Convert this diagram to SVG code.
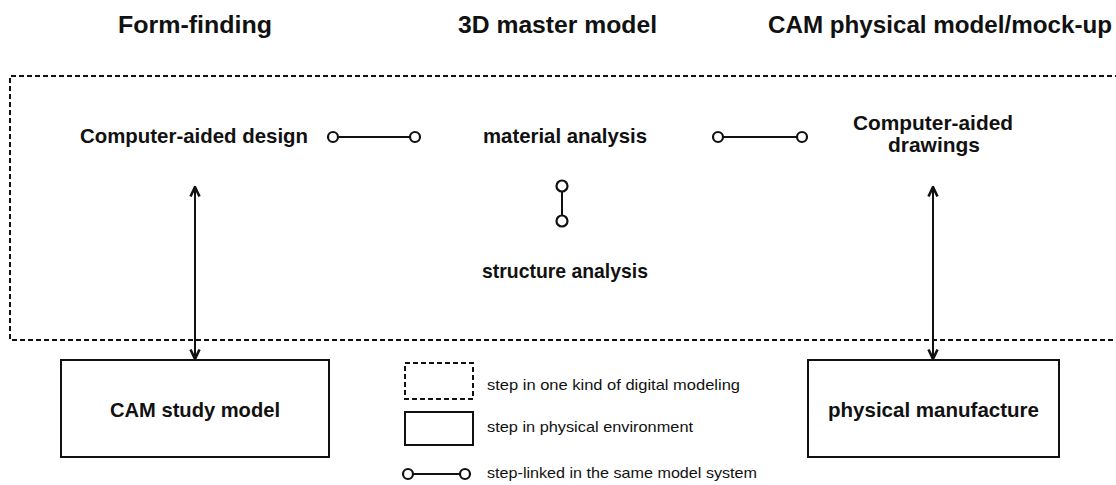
<svg xmlns="http://www.w3.org/2000/svg" width="1116" height="485" viewBox="0 0 1116 485">
  <style>
    .title { font-family: "Liberation Sans", Arial, sans-serif; font-weight: bold; font-size: 23px; fill: #111; }
    .label { font-family: "Liberation Sans", Arial, sans-serif; font-weight: bold; font-size: 20.5px; fill: #111; }
    .legend { font-family: "Liberation Sans", Arial, sans-serif; font-size: 15px; fill: #111; }
    .dashed { fill: none; stroke: #111; stroke-width: 2; stroke-dasharray: 5 3; }
    .solid { fill: #fff; stroke: #111; stroke-width: 2; }
    .link { stroke: #111; stroke-width: 2; fill: none; }
    .knob { fill: #fff; stroke: #111; stroke-width: 2.2; }
    .arrow { stroke: #111; stroke-width: 2; fill: none; marker-start: url(#head); marker-end: url(#head); }
  </style>
  <defs>
    <marker id="head" viewBox="0 0 12 12" refX="11" refY="6" markerWidth="12" markerHeight="12" markerUnits="userSpaceOnUse" orient="auto-start-reverse">
      <path d="M1.5,1.5 L11,6 L1.5,10.5" fill="none" stroke="#111" stroke-width="2.6" stroke-linejoin="miter"/>
    </marker>
  </defs>

  <rect width="1116" height="485" fill="#fff"/>

  <!-- column headings -->
  <g id="headings">
    <text class="title" x="118" y="33" textLength="154" lengthAdjust="spacingAndGlyphs">Form-finding</text>
    <text class="title" x="458" y="33" textLength="199" lengthAdjust="spacingAndGlyphs">3D master model</text>
    <text class="title" x="768" y="33" textLength="344" lengthAdjust="spacingAndGlyphs">CAM physical model/mock-up</text>
  </g>

  <!-- digital modeling frame (open on the right) -->
  <g id="digital-frame">
    <path class="dashed" d="M1120,76 L10,76 L10,340 L1120,340"/>
  </g>

  <g id="cad">
    <text class="label" x="80" y="143" textLength="228" lengthAdjust="spacingAndGlyphs">Computer-aided design</text>
  </g>
  <g id="material">
    <text class="label" x="483" y="143" textLength="164" lengthAdjust="spacingAndGlyphs">material analysis</text>
  </g>
  <g id="structure">
    <text class="label" x="482" y="278" textLength="166" lengthAdjust="spacingAndGlyphs">structure analysis</text>
  </g>
  <g id="drawings">
    <text class="label" x="853" y="130" textLength="160" lengthAdjust="spacingAndGlyphs">Computer-aided</text>
    <text class="label" x="888" y="152" textLength="92" lengthAdjust="spacingAndGlyphs">drawings</text>
  </g>

  <g id="study-model">
    <rect class="solid" x="61" y="360" width="268" height="97"/>
    <text class="label" x="110" y="417" textLength="170" lengthAdjust="spacingAndGlyphs">CAM study model</text>
  </g>
  <g id="manufacture">
    <rect class="solid" x="808" y="360" width="251" height="97"/>
    <text class="label" x="828" y="417" textLength="211" lengthAdjust="spacingAndGlyphs">physical manufacture</text>
  </g>

  <!-- connectors -->
  <g id="connectors">
    <line class="link" x1="333" y1="137" x2="415" y2="137"/>
    <circle class="knob" cx="333" cy="137" r="5"/>
    <circle class="knob" cx="415" cy="137" r="5"/>

    <line class="link" x1="718" y1="137" x2="802" y2="137"/>
    <circle class="knob" cx="718" cy="137" r="5"/>
    <circle class="knob" cx="802" cy="137" r="5"/>

    <line class="link" x1="562" y1="186" x2="562" y2="221"/>
    <circle class="knob" cx="562" cy="186" r="5.5"/>
    <circle class="knob" cx="562" cy="221" r="5.5"/>

    <line class="arrow" x1="195" y1="187" x2="195" y2="359"/>
    <line class="arrow" x1="933" y1="187" x2="933" y2="359"/>
  </g>

  <!-- legend -->
  <g id="legend">
    <rect class="dashed" x="405" y="363" width="68" height="36"/>
    <text class="legend" x="487" y="390" textLength="253" lengthAdjust="spacingAndGlyphs">step in one kind of digital modeling</text>
    <rect class="solid" x="405" y="412" width="68" height="33"/>
    <text class="legend" x="487" y="432" textLength="206" lengthAdjust="spacingAndGlyphs">step in physical environment</text>
    <line class="link" x1="408" y1="474" x2="465" y2="474"/>
    <circle class="knob" cx="408" cy="474" r="5"/>
    <circle class="knob" cx="465" cy="474" r="5"/>
    <text class="legend" x="487" y="478" textLength="270" lengthAdjust="spacingAndGlyphs">step-linked in the same model system</text>
  </g>
</svg>
